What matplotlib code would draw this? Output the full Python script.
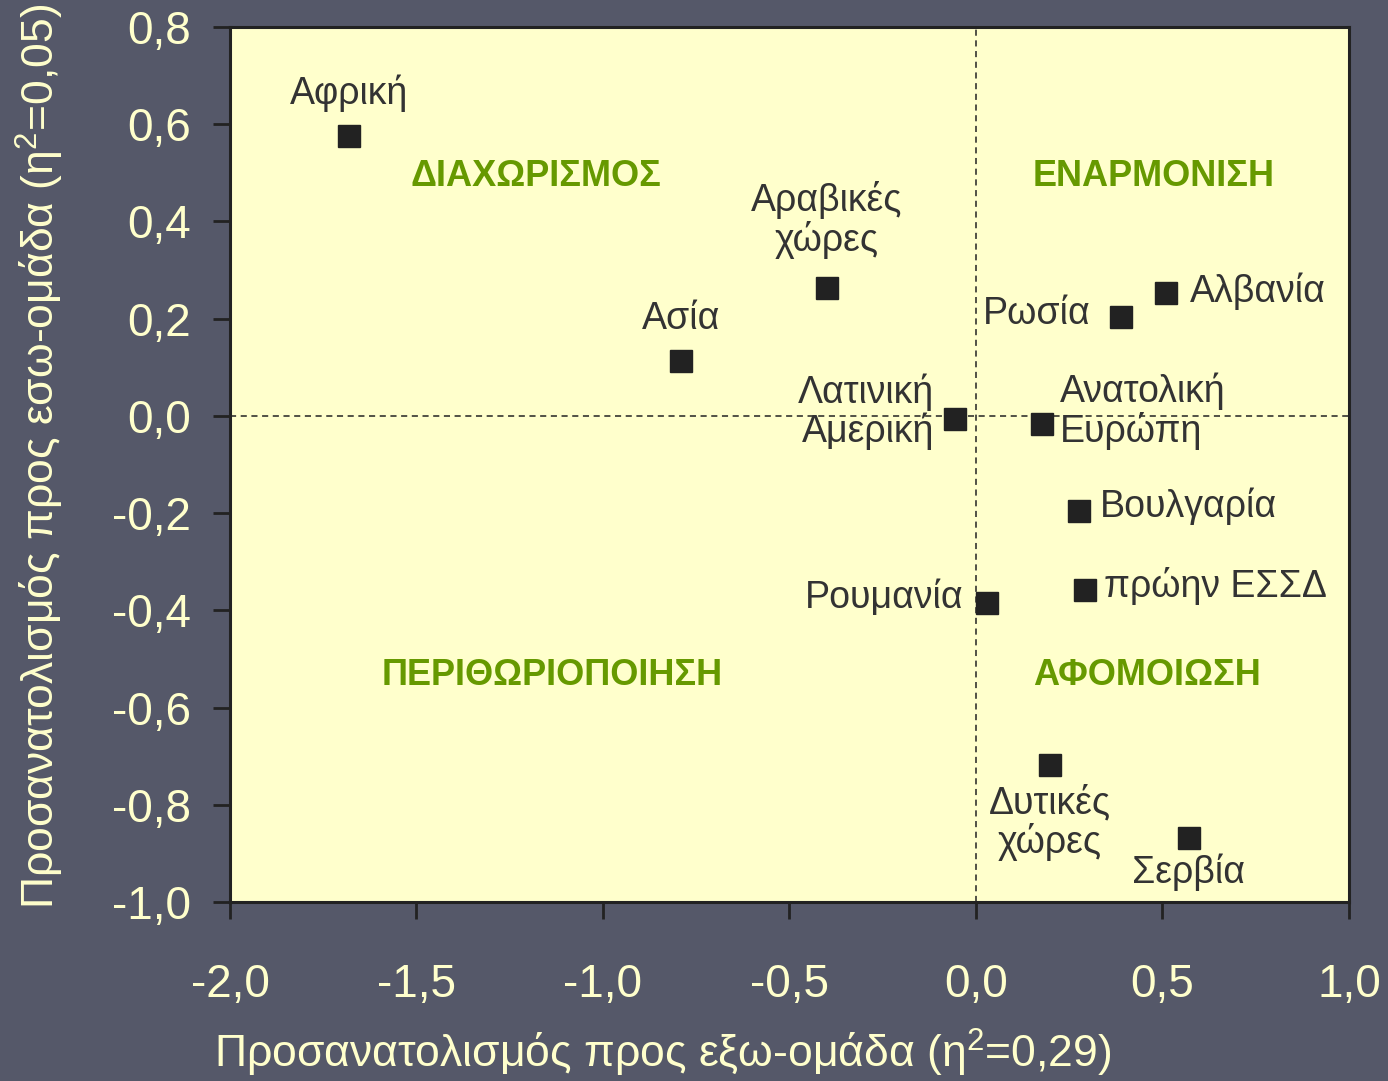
import matplotlib
matplotlib.use("Agg")
import matplotlib.pyplot as plt

#####################################################################################
plt.rcParams['font.family'] = ['Liberation Sans', 'DejaVu Sans']
plt.rcParams['mathtext.fontset'] = 'custom'
plt.rcParams['mathtext.rm'] = 'Liberation Sans'
#####################################################################################
# data
countries = ["Αφρική", "Αραβικές\nχώρες", "Ασία", "Λατινική\nΑμερική", "Ρωσία", "Αλβανία",
             "Ανατολική\nΕυρώπη", "Βουλγαρία", "πρώην ΕΣΣΔ", "Ρουμανία", "Δυτικές\nχώρες", "Σερβία"]
out_group = [-1.68, -0.40, -0.79, -0.056, 0.39, 0.51, 0.177, 0.276, 0.292, 0.029, 0.198, 0.571]
in_group = [0.576, 0.263, 0.113, -0.006, 0.204, 0.253, -0.016, -0.195, -0.358, -0.385, -0.718, -0.868]

quadrants = ["ΔΙΑΧΩΡΙΣΜΟΣ", "ΕΝΑΡΜΟΝΙΣΗ", "ΠΕΡΙΘΩΡΙΟΠΟΙΗΣΗ", "ΑΦΟΜΟΙΩΣΗ"]
quad_x = [-1.18, 0.475, -1.137, 0.458]
quad_y = [0.492, 0.492, -0.535, -0.535]

xticks = [-2.0, -1.5, -1.0, -0.5, 0.0, 0.5, 1.0]
yticks = [-1.0, -0.8, -0.6, -0.4, -0.2, 0.0, 0.2, 0.4, 0.6, 0.8]

# label placement: (dx, dy) in points, ha
label_pos = [((0, 31), "center"), ((0, 49), "center"), ((0, 30), "center"), ((-15, 5), "right"),
             ((-22, 2), "right"), ((17, 1), "left"), ((13, 9), "left"), ((15, 3), "left"),
             ((14, 3), "left"), ((-17, 4), "right"), ((0, -42), "center"), ((0, -25), "center")]
#####################################################################################
bg = "#555869"
light = "#ffffcc"
dark = "#222222"

fig = plt.figure(figsize=(13.88, 10.81), dpi=100, facecolor=bg)
ax = fig.add_axes([0.1657, 0.1656, 0.9719 - 0.1657, 0.975 - 0.1656])
ax.set_facecolor(light)

ax.set_xlim(-2.0, 1.0)
ax.set_ylim(-1.0, 0.8)

ax.axvline(0, color=dark, lw=1.1, ls=(0, (4, 3)), zorder=1)
ax.axhline(0, color=dark, lw=1.1, ls=(0, (4, 3)), zorder=1)

ax.plot(out_group, in_group, "s", color=dark, markersize=16, zorder=3)

for i in range(len(countries)):
    (dx, dy), ha = label_pos[i]
    ax.annotate(countries[i], (out_group[i], in_group[i]), xytext=(dx, dy),
                textcoords="offset points", ha=ha, va="center", fontsize=27,
                color="#333333", linespacing=1.05)

for i in range(len(quadrants)):
    ax.text(quad_x[i], quad_y[i], quadrants[i], ha="center", va="center",
            fontsize=26, fontweight="bold", color="#669900")

ax.set_xticks(xticks)
ax.set_xticklabels([("%.1f" % t).replace(".", ",") for t in xticks])
ax.set_yticks(yticks)
ax.set_yticklabels([("%.1f" % t).replace(".", ",") for t in yticks])
ax.tick_params(axis="both", direction="out", length=12, width=2, color=dark,
               labelcolor=light, labelsize=33)
ax.tick_params(axis="y", pad=16)
ax.tick_params(axis="x", pad=32)

for s in ax.spines.values():
    s.set_color(dark)
    s.set_linewidth(2.2)

ax.set_xlabel(r"Προσανατολισμός προς εξω-ομάδα (η$^{\mathregular{2}}$=0,29)", fontsize=32, color=light)
ax.xaxis.set_label_coords(0.387, -0.172)
ax.xaxis.label.set_va("center")
ax.set_ylabel(r"Προσανατολισμός προς εσω-ομάδα (η$^{\mathregular{2}}$=0,05)", fontsize=32, color=light)
ax.yaxis.set_label_coords(-0.170, 0.509)
ax.yaxis.label.set_va("center")

fig.savefig("out.png", dpi=100, facecolor=bg)
